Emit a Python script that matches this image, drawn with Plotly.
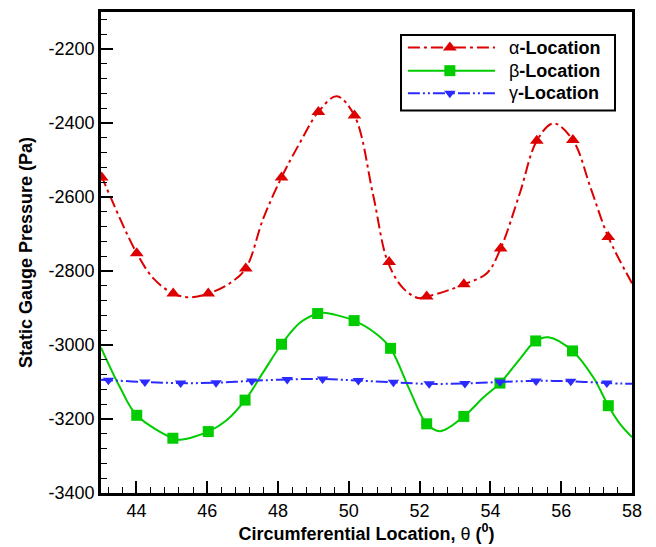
import plotly.graph_objects as go

# ---- data ----
# alpha-Location (red, dash-dot, triangle-up)
alpha_line_x = [43.0, 43.54, 44.01, 44.48, 45.04, 45.51, 46.03, 46.64, 47.09, 47.58, 48.10, 48.62,
                49.14, 49.66, 50.16, 50.69, 51.10, 51.54, 51.96, 52.20, 52.72, 53.25, 53.90, 54.29,
                54.84, 55.31, 55.78, 56.33, 56.84, 57.33, 58.0]
alpha_line_y = [-2540, -2659, -2752, -2820, -2861, -2871, -2861, -2833, -2793, -2659, -2547, -2453,
                -2370, -2328, -2380, -2596, -2775, -2847, -2873, -2869, -2855, -2836, -2806, -2739,
                -2587, -2448, -2401, -2446, -2578, -2708, -2833]
alpha_mark_x = [43.02, 44.01, 45.04, 46.03, 47.09, 48.10, 49.14, 50.16, 51.14, 52.20, 53.25, 54.29,
                55.31, 56.33, 57.33]
alpha_mark_y = [-2547, -2752, -2861, -2861, -2793, -2547, -2370, -2380, -2776, -2869, -2836, -2739,
                -2448, -2446, -2708]

# beta-Location (green, solid, square)
beta_line_x = [43.0, 43.54, 44.01, 45.03, 45.23, 46.03, 46.54, 47.07, 47.58, 48.10, 48.62, 49.12,
               49.28, 50.15, 50.79, 51.18, 51.73, 52.20, 52.58, 53.25, 53.80, 54.27, 54.79, 55.28,
               55.64, 56.32, 56.91, 57.33, 57.66, 58.0]
beta_line_y = [-3007, -3115, -3190, -3252, -3256, -3234, -3204, -3149, -3074, -2998, -2940, -2915,
               -2913, -2934, -2971, -3009, -3124, -3213, -3233, -3193, -3142, -3103, -3043, -2989,
               -2979, -3016, -3088, -3164, -3213, -3249]
beta_mark_x = [44.01, 45.03, 46.03, 47.07, 48.10, 49.12, 50.15, 51.18, 52.20, 53.25, 54.27, 55.28,
               56.32, 57.33]
beta_mark_y = [-3190, -3252, -3234, -3149, -2998, -2915, -2934, -3009, -3213, -3193, -3103, -2989,
               -3016, -3164]

# gamma-Location (blue, dash-dot-dot, triangle-down)
gamma_line_x = [43.0, 43.21, 44.24, 45.25, 46.25, 47.26, 48.26, 49.26, 50.27, 51.26, 52.27, 53.28,
                54.27, 55.29, 56.27, 57.29, 58.0]
gamma_line_y = [-3094, -3095, -3100, -3103, -3102, -3097, -3093, -3092, -3096, -3101, -3105, -3104,
                -3100, -3097, -3098, -3103, -3105]
gamma_mark_x = gamma_line_x[1:-1]
gamma_mark_y = gamma_line_y[1:-1]

series_names = ["α", "β", "γ"]
x_ticks = [44, 46, 48, 50, 52, 54, 56, 58]
y_ticks = [-3400, -3200, -3000, -2800, -2600, -2400, -2200]
y_tick_labels = ["-3400", "-3200", "-3000", "-2800", "-2600", "-2400", "-2200"]

RED = "#DD0000"
GREEN = "#00CC00"
BLUE = "#2B2BFF"
FONT = "Liberation Sans, Arial, sans-serif"

styles = [
    (RED, "12px,4px,3px,4px", "triangle-up", 12),
    (GREEN, "solid", "square", 11),
    (BLUE, "12px,3px,2px,3px,2px,3px", "triangle-down", 10),
]
data = [
    (alpha_line_x, alpha_line_y, alpha_mark_x, alpha_mark_y),
    (beta_line_x, beta_line_y, beta_mark_x, beta_mark_y),
    (gamma_line_x, gamma_line_y, gamma_mark_x, gamma_mark_y),
]

fig = go.Figure()
for (lx, ly, mx, my), (col, dash, sym, ms) in zip(data, styles):
    fig.add_trace(go.Scatter(x=lx, y=ly, mode="lines", showlegend=False, hoverinfo="skip",
                             line=dict(color=col, width=2, dash=dash, shape="spline", smoothing=1.0)))
    fig.add_trace(go.Scatter(x=mx, y=my, mode="markers", showlegend=False,
                             marker=dict(symbol=sym, size=ms, color=col)))

# ---- legend drawn in a fraction-of-plot overlay axis (x2/y2 span 0..1) ----
leg_rows = [0.926, 0.878, 0.831]
leg_x0, leg_xm, leg_x1, leg_text_x = 0.578, 0.657, 0.742, 0.764
for name, row, (col, dash, sym, ms) in zip(series_names, leg_rows, styles):
    fig.add_trace(go.Scatter(x=[leg_x0, leg_x1], y=[row, row], mode="lines", showlegend=False,
                             xaxis="x2", yaxis="y2", hoverinfo="skip",
                             line=dict(color=col, width=2, dash=dash)))
    fig.add_trace(go.Scatter(x=[leg_xm], y=[row], mode="markers", showlegend=False,
                             xaxis="x2", yaxis="y2", hoverinfo="skip",
                             marker=dict(symbol=sym, size=ms, color=col)))
    fig.add_annotation(x=leg_text_x, y=row, xref="paper", yref="paper", xanchor="left",
                       yanchor="middle", showarrow=False,
                       text=name + "<b>-Location</b>",
                       font=dict(family=FONT, size=18, color="black"))

fig.add_shape(type="rect", xref="paper", yref="paper", x0=0.565, x1=0.968, y0=0.795, y1=0.952,
              line=dict(color="black", width=2), fillcolor="rgba(0,0,0,0)", layer="above")

axis_common = dict(
    showgrid=False, zeroline=False, showline=True, linecolor="black", linewidth=2.5,
    mirror=True, ticks="inside", ticklen=12, tickwidth=2, tickcolor="black",
    tickfont=dict(family=FONT, size=18, color="black"),
)

xaxis = dict(
    range=[43, 58], tickvals=x_ticks,
    minor=dict(ticks="inside", ticklen=6, tickwidth=1, tickcolor="black", dtick=0.4, tick0=43.2),
    title=dict(text="<b>Circumferential Location, </b>θ<b> (<sup>0</sup>)</b>",
               font=dict(family=FONT, size=18, color="black"), standoff=2),
    **axis_common)
yaxis = dict(
    range=[-3400, -2100], tickvals=y_ticks, ticktext=y_tick_labels,
    minor=dict(ticks="inside", ticklen=6, tickwidth=1, tickcolor="black", dtick=40, tick0=-3400),
    title=dict(text="<b>Static Gauge Pressure (Pa)</b>",
               font=dict(family=FONT, size=18, color="black"), standoff=12),
    **axis_common)

fig.update_layout(
    width=656, height=547,
    margin=dict(l=101, r=24, t=9, b=54),
    plot_bgcolor="white", paper_bgcolor="white",
    showlegend=False,
    xaxis=xaxis, yaxis=yaxis,
    xaxis2=dict(overlaying="x", range=[0, 1], visible=False, anchor="y2"),
    yaxis2=dict(overlaying="y", range=[0, 1], visible=False, anchor="x2"),
)

fig.write_html("out.html")
